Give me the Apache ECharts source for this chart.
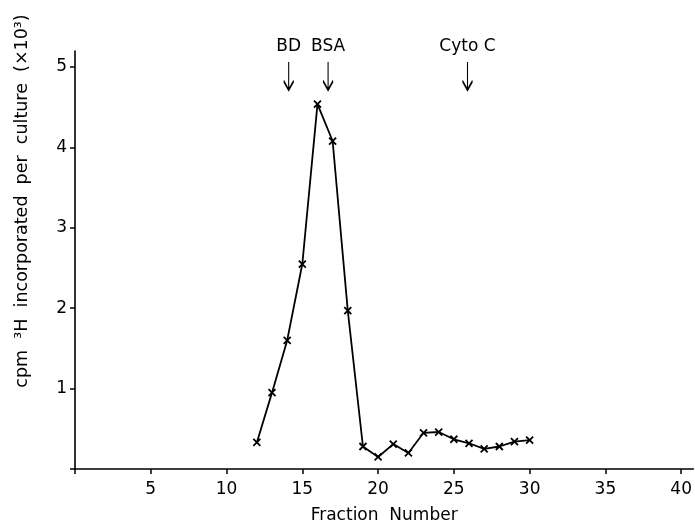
<!DOCTYPE html>
<html>
<head>
<meta charset="utf-8">
<script src="https://cdn.jsdelivr.net/npm/echarts@6/dist/echarts.min.js"></script>
<style>
  html, body { margin: 0; padding: 0; background: #fff; }
  #chart { width: 695px; height: 529px; }
</style>
</head>
<body>
<div id="chart"></div>
<script>
// fraction number vs cpm 3H (x10^3)
const fractions = [12, 13, 14, 15, 16, 17, 18, 19, 20, 21, 22, 23, 24, 25, 26, 27, 28, 29, 30];
const cpm = [0.33, 0.95, 1.60, 2.55, 4.54, 4.08, 1.97, 0.28, 0.15, 0.31, 0.20, 0.45, 0.46, 0.37, 0.32, 0.25, 0.28, 0.34, 0.36];

// marker proteins (arrows)
const markerNames = ['BD', 'BSA', 'Cyto C'];
const markerFractions = [14.1, 16.7, 25.9];

const xTicks = [0, 5, 10, 15, 20, 25, 30, 35, 40];
const xLabels = [5, 10, 15, 20, 25, 30, 35, 40];
const yTicks = [0, 1, 2, 3, 4, 5];
const yLabels = [1, 2, 3, 4, 5];

const FONT = 'DejaVu Sans';

var myChart = echarts.init(document.getElementById('chart'));

var option = {
  animation: false,
  backgroundColor: '#fff',
  grid: { left: 75, right: 0, top: 51, bottom: 60 },
  xAxis: {
    type: 'value',
    min: 0,
    max: 40.8,
    name: 'Fraction  Number',
    nameLocation: 'middle',
    nameGap: 38,
    nameTextStyle: { color: '#000', fontSize: 17, fontFamily: FONT },
    axisLine: { lineStyle: { color: '#000', width: 1.6 } },
    axisTick: { customValues: xTicks, length: 5, lineStyle: { color: '#000', width: 1.5 } },
    axisLabel: { customValues: xLabels, color: '#000', fontSize: 17, fontFamily: FONT, margin: 12 },
    splitLine: { show: false }
  },
  yAxis: {
    type: 'value',
    min: 0,
    max: 5.2,
    axisLine: { show: true, lineStyle: { color: '#000', width: 1.6 } },
    axisTick: { show: true, customValues: yTicks, length: 5, lineStyle: { color: '#000', width: 1.5 } },
    axisLabel: { customValues: yLabels, color: '#000', fontSize: 17, fontFamily: FONT, margin: 8 },
    splitLine: { show: false }
  },
  graphic: [
    {
      type: 'text',
      x: 22,
      y: 201,
      rotation: Math.PI / 2,
      style: {
        text: 'cpm  ³H  incorporated  per  culture  (×10³)',
        fill: '#000',
        fontSize: 17.5,
        fontFamily: FONT,
        align: 'center',
        verticalAlign: 'middle'
      }
    }
  ],
  series: [
    {
      type: 'line',
      data: fractions.map((f, i) => [f, cpm[i]]),
      symbol: 'path://M0,0L10,10M10,0L0,10',
      symbolSize: 7,
      lineStyle: { color: '#000', width: 1.8 },
      itemStyle: { color: '#000', borderColor: '#000', borderWidth: 1.8 },
      markPoint: {
        symbol: 'path://M5,0L5,28M0,19L5,28L10,19',
        symbolSize: [10, 28],
        itemStyle: { color: 'rgba(0,0,0,0)', borderColor: '#000', borderWidth: 1.8 },
        label: {
          show: true,
          position: 'top',
          distance: 5,
          color: '#000',
          fontSize: 17,
          fontFamily: FONT,
          formatter: p => p.name
        },
        data: markerNames.map((n, i) => ({ name: n, coord: [markerFractions[i], 4.89] }))
      }
    }
  ]
};

myChart.setOption(option);
</script>
</body>
</html>
